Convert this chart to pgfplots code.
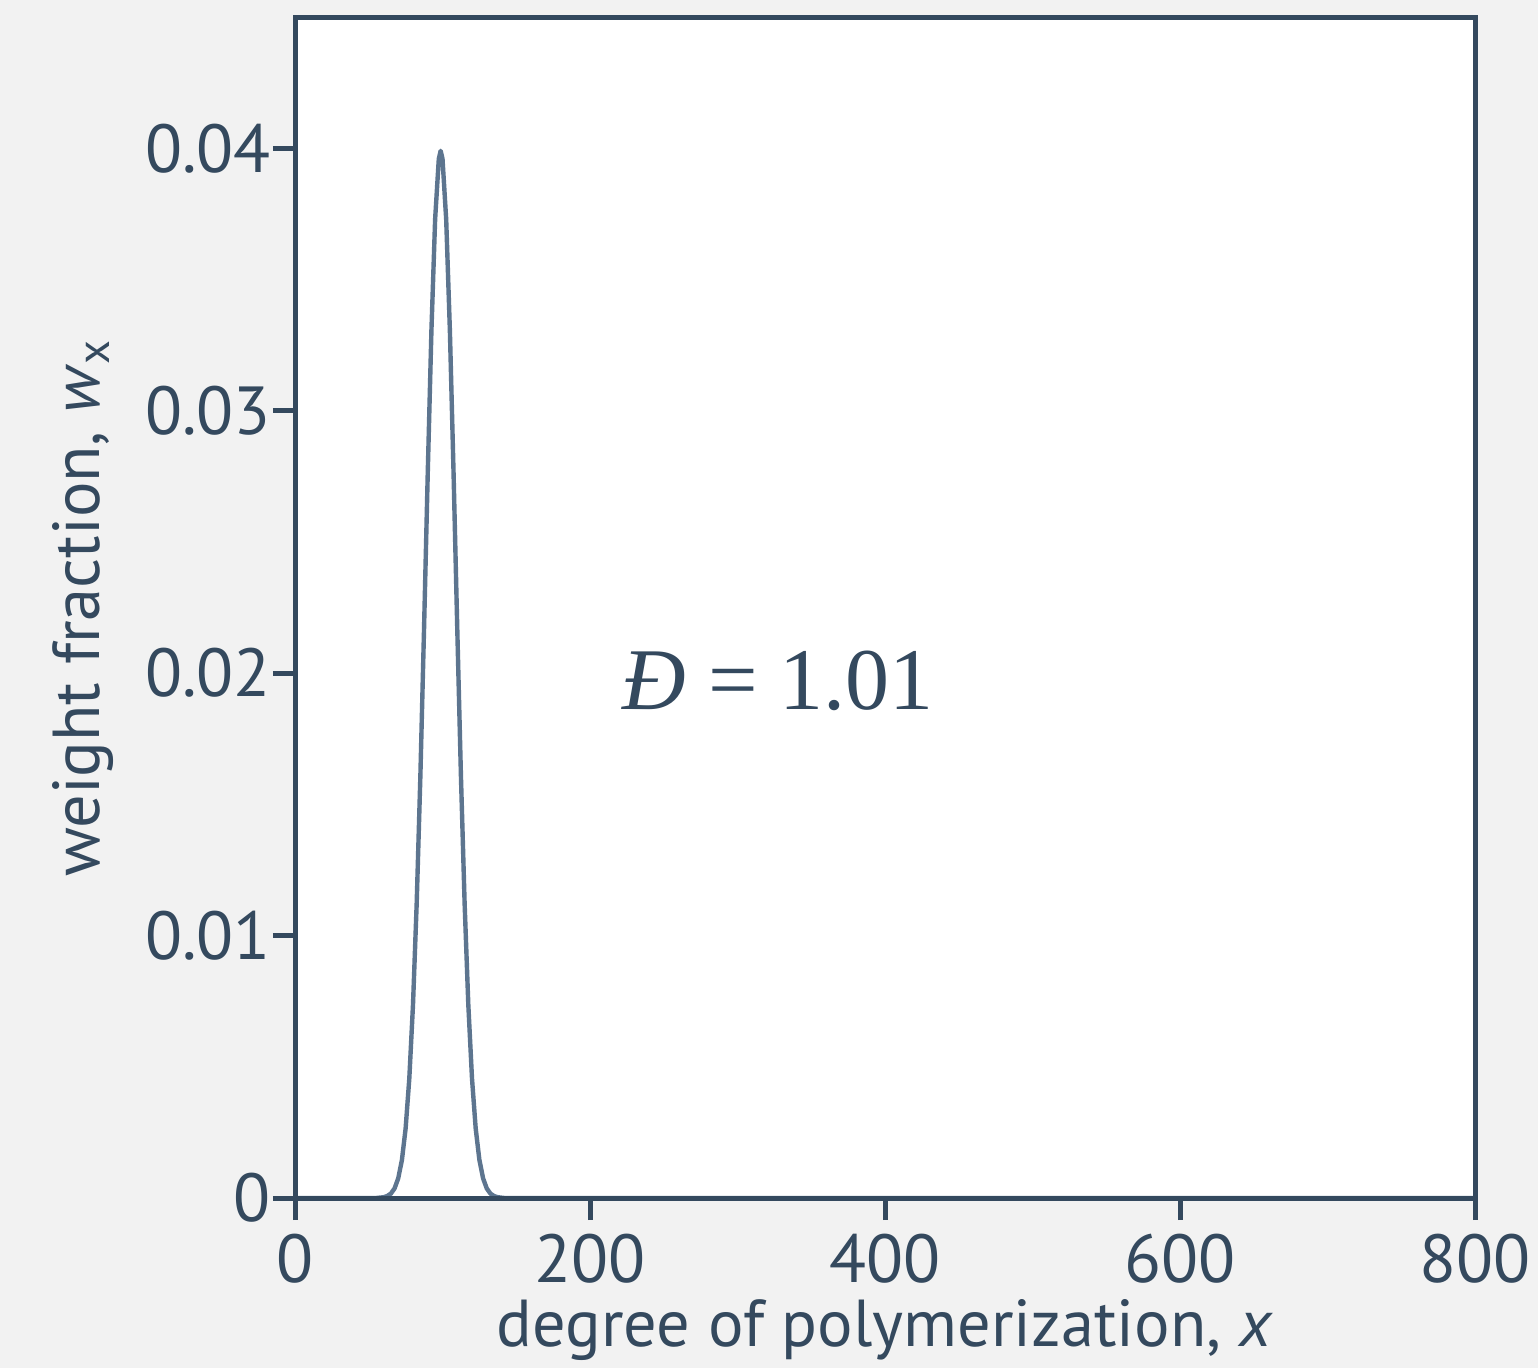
\documentclass[border=0pt]{standalone}
\usepackage{fontspec}
\setmainfont{PT Sans}
\newfontfamily\serifont{Liberation Serif}
\usepackage{pgfplots}
\pgfplotsset{compat=1.18}
\definecolor{axcol}{RGB}{52,73,94}
\definecolor{curvecol}{RGB}{93,117,143}
\definecolor{bggray}{RGB}{242,242,242}

\begin{document}
\begin{tikzpicture}
\useasboundingbox (-73.75pt,-42.5pt) rectangle (310.75pt,299.5pt);
\fill[bggray] (-73.75pt,-42.5pt) rectangle (310.75pt,299.5pt);
\begin{axis}[
  at={(0,0)}, anchor=south west,
  scale only axis, width=295pt, height=295.25pt,
  xmin=0, xmax=800, ymin=0, ymax=0.045,
  axis on top,
  axis background/.style={fill=white},
  axis line style={axcol, line width=1.25pt},
  every tick/.style={axcol, line width=1.25pt},
  tick align=outside, major tick length=5.5pt,
  xtick pos=bottom, ytick pos=left,
  xtick={0,200,400,600,800},
  ytick={0,0.01,0.02,0.03,0.04},
  yticklabels={0,0.01,0.02,0.03,0.04},
  scaled y ticks=false,
  /pgf/number format/assume math mode=true,
  tick label style={font=\fontsize{17}{20}\selectfont, text=axcol},
  yticklabel style={xshift=3pt},
  label style={font=\fontsize{16.6}{20}\selectfont, text=axcol},
  xlabel={degree of polymerization, \textit{x}},
  ylabel={weight fraction, \textit{w}\textsubscript{x}},
  xlabel style={at={(axis description cs:0.5,-0.112)}, anchor=center},
  ylabel style={at={(axis description cs:-0.18,0.5)}, anchor=center, rotate=0},
]
\addplot[curvecol, line width=1.1pt, line join=round] table {
x w
0 0
55 0
60 0.0000293
62.5 0.0000722
65 0.000167
67.5 0.000365
70 0.000752
72.5 0.001454
75 0.002652
77.5 0.004556
80 0.007366
82.5 0.01122
85 0.01608
87.5 0.02172
90 0.02762
92.5 0.03307
95 0.03729
97.5 0.03960
98.75 0.03990
100 0.03960
102.5 0.03729
105 0.03307
107.5 0.02762
110 0.02172
112.5 0.01608
115 0.01122
117.5 0.007366
120 0.004556
122.5 0.002652
125 0.001454
127.5 0.000752
130 0.000365
132.5 0.000167
135 0.0000722
137.5 0.0000293
142 0
800 0
};
\node[text=axcol, font=\serifont\fontsize{22}{26}\selectfont] at (axis cs:327.5,0.0197) {\textit{Đ} = 1.01};
\end{axis}
\end{tikzpicture}
\end{document}
